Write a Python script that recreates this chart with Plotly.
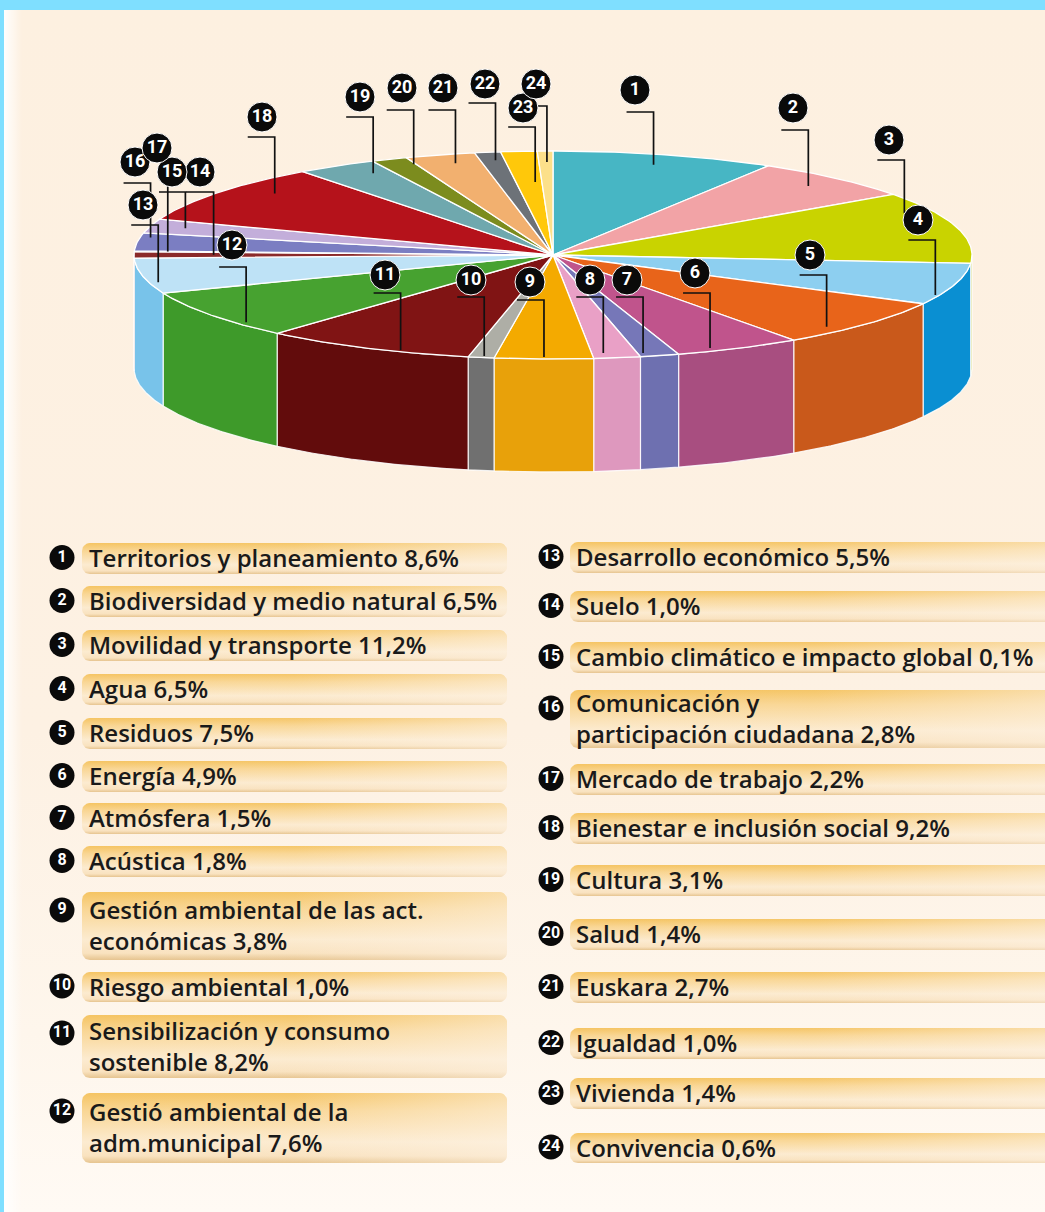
import numpy as np
import plotly.graph_objects as go

# ---------------- data ----------------
numbers = list(range(1, 25))
labels = [
    "Territorios y planeamiento", "Biodiversidad y medio natural", "Movilidad y transporte",
    "Agua", "Residuos", "Energía", "Atmósfera", "Acústica",
    "Gestión ambiental de las act.<br>económicas", "Riesgo ambiental",
    "Sensibilización y consumo<br>sostenible", "Gestió ambiental de la<br>adm.municipal",
    "Desarrollo económico", "Suelo", "Cambio climático e impacto global",
    "Comunicación y<br>participación ciudadana", "Mercado de trabajo",
    "Bienestar e inclusión social", "Cultura", "Salud", "Euskara", "Igualdad",
    "Vivienda", "Convivencia",
]
values = [8.6, 6.5, 11.2, 6.5, 7.5, 4.9, 1.5, 1.8, 3.8, 1.0, 8.2, 7.6,
          5.5, 1.0, 0.1, 2.8, 2.2, 9.2, 3.1, 1.4, 2.7, 1.0, 1.4, 0.6]
top_colors = ["#47B6C4", "#F2A3A6", "#C9D300", "#8DCFF0", "#E8641A", "#C0548C",
              "#7677B8", "#E9A0C6", "#F4AA00", "#AEAEA6", "#801414", "#47A230",
              "#BEE2F6", "#8B2A2A", "#CDB8DF", "#7B7EC2", "#C3AEDA", "#B5121B",
              "#6FA8AE", "#7C8C1E", "#F2B06F", "#6D7278", "#FFC80A", "#FCE08A"]
side_colors = ["#3C9CA8", "#D08C8F", "#AAB300", "#0A8FD2", "#C9591B", "#A84E80",
               "#6E70B0", "#DE98BE", "#E8A10A", "#707070", "#620C0C", "#3E9A2A",
               "#78C3EA", "#701F1F", "#B09CC4", "#6668A8", "#A894C0", "#951016",
               "#5F9297", "#66741A", "#D8995E", "#5A5E63", "#E0AE08", "#E0C476"]

# ---------------- layout constants ----------------
W, H = 1045, 1212
CX, CY, RX, RY, DEPTH = 553, 255, 419, 104, 113
BG = "#FDF0E0"

# callouts: number, label centre (x,y), position inside slice (t), radius fraction (k),
# elbow y, optional start x of horizontal segment
callouts = [
    (1, 635, 90, 0.5, 0.9, 112, None), (2, 793, 108, 0.5, 0.9, 130, None),
    (3, 889, 140, 0.25, 0.93, 160, None), (4, 918, 220, 0.78, 0.99, 240, None),
    (5, 810, 255, 0.69, 0.95, 275, None), (6, 695, 273, 0.7, 0.97, 293, None),
    (7, 627, 280, 0.85, 0.966, 297, None), (8, 590, 280, 0.74, 0.95, 297, None),
    (9, 530, 282, 0.5, 0.98, 300, None), (10, 471, 280, 0.42, 0.984, 297, None),
    (11, 385, 275, 0.34, 0.983, 293, None), (12, 232, 245, 0.27, 0.977, 267, None),
    (13, 143, 205, 0.30, 0.978, 225, None), (14, 200, 172, 0.5, 0.81, 192, 186),
    (15, 172, 172, 0.5, 0.92, None, None), (16, 135, 162, 0.76, 0.975, 183, None),
    (17, 157, 148, 0.5, 0.914, 192, 159), (18, 262, 117, 0.65, 0.89, 137, None),
    (19, 360, 97, 0.72, 0.895, 117, None), (20, 402, 88, 0.93, 0.934, 110, None),
    (21, 443, 88, 0.59, 0.913, 110, None), (22, 485, 84, 0.62, 0.922, 103, None),
    (23, 523, 108, 0.74, 0.703, 127, None), (24, 536, 84, 0.57, 0.894, 106, None),
]

# legend rows: (bar top, bar bottom) per item; columns
left_rows = [(543, 574), (586, 617), (630, 661), (674, 705), (718, 749), (761, 792),
             (803, 834), (846, 877), (892, 960), (972, 1002), (1015, 1078), (1093, 1163)]
right_rows = [(542, 573), (591, 622), (642, 673), (690, 748), (764, 795), (813, 844),
              (865, 896), (919, 950), (972, 1003), (1028, 1059), (1078, 1109), (1133, 1163)]

fig = go.Figure()

# ---------------- background ----------------
fig.add_trace(go.Scatter(
    x=[4, W, W, 4, 4], y=[10, 10, H, H, 10], mode="lines", fill="toself",
    line=dict(width=0), hoverinfo="skip",
    fillgradient=dict(type="vertical", start=10, stop=H,
                      colorscale=[[0, BG], [0.6, "#FDF1E3"], [0.85, "#FEF6EC"], [1, "#FFFAF4"]])))
fig.add_trace(go.Scatter(
    x=[4, 22, 22, 4, 4], y=[10, 10, H, H, 10], mode="lines", fill="toself",
    line=dict(width=0), hoverinfo="skip",
    fillgradient=dict(type="horizontal", start=4, stop=22,
                      colorscale=[[0, "rgba(255,255,255,0.95)"], [1, "rgba(255,255,255,0)"]])))

# ---------------- pie ----------------
total = sum(values)
cum = np.concatenate([[0], np.cumsum(values)]) / total * 360.0


def pt(phi, k=1.0, dy=0.0):
    r = np.radians(phi)
    return CX + k * RX * np.sin(r), CY - k * RY * np.cos(r) + dy


def arc(a, b, k=1.0, dy=0.0):
    n = max(3, int(abs(b - a) * 2) + 2)
    ph = np.linspace(a, b, n)
    return pt(ph, k, dy)


# side walls (front half)
for i in range(len(values)):
    a, b = max(cum[i], 90.0), min(cum[i + 1], 270.0)
    if b <= a:
        continue
    xt, yt = arc(a, b)
    xb, yb = arc(b, a, dy=DEPTH)
    xs = np.concatenate([xt, xb, xt[:1]])
    ys = np.concatenate([yt, yb, yt[:1]])
    fig.add_trace(go.Scatter(x=xs, y=ys, mode="lines", fill="toself", fillcolor=side_colors[i],
                             line=dict(color="rgba(255,255,255,0.85)", width=1.2), hoverinfo="skip"))

# top faces
for i in range(len(values)):
    xa, ya = arc(cum[i], cum[i + 1])
    xs = np.concatenate([[CX], xa, [CX]])
    ys = np.concatenate([[CY], ya, [CY]])
    fig.add_trace(go.Scatter(x=xs, y=ys, mode="lines", fill="toself", fillcolor=top_colors[i],
                             line=dict(color="white", width=1.3), hoverinfo="skip"))

# ---------------- callouts ----------------
lx_, ly_ = [], []
for num, cx_, cy_, t, k, ey_corner, hstart in callouts:
    i = num - 1
    phi = cum[i] + t * (cum[i + 1] - cum[i])
    ex, ey = pt(phi, k)
    if ey_corner is None:
        lx_ += [ex, ex, None]
        ly_ += [cy_ + 14, ey, None]
    else:
        hs = ex - 27 if hstart is None else hstart
        lx_ += [hs, ex, ex, None]
        ly_ += [ey_corner, ey_corner, ey, None]
fig.add_trace(go.Scatter(x=lx_, y=ly_, mode="lines", line=dict(color="#111111", width=1.7),
                         hoverinfo="skip"))
fig.add_trace(go.Scatter(
    x=[c[1] for c in callouts], y=[c[2] for c in callouts], mode="markers+text",
    marker=dict(size=30, color="#0A0A0A", line=dict(color="white", width=1)),
    text=[f"<b>{c[0]}</b>" for c in callouts], textposition="middle center",
    textfont=dict(family="Roboto", size=18, color="white"), hoverinfo="skip"))


# ---------------- legend ----------------
def rrect(x0, y0, x1, y1, r):
    xs, ys = [], []
    for (cx_, cy_, a0) in [(x1 - r, y0 + r, -90), (x1 - r, y1 - r, 0), (x0 + r, y1 - r, 90), (x0 + r, y0 + r, 180)]:
        ang = np.radians(np.linspace(a0, a0 + 90, 8))
        xs += list(cx_ + r * np.cos(ang))
        ys += list(cy_ + r * np.sin(ang))
    xs.append(xs[0]); ys.append(ys[0])
    return xs, ys


bar_scale = [[0, "#F5C462"], [0.25, "#F9D694"], [0.7, "#FCEBD0"], [0.9, "#F9E2BF"], [1, "#E6C48F"]]
circ_x, circ_y, circ_t = [], [], []
for col, rows, bx0, bx1, cxl, tx in [(0, left_rows, 82, 507, 62, 87), (1, right_rows, 570, 1060, 551, 574)]:
    for j, (y0, y1) in enumerate(rows):
        idx = col * 12 + j
        xs, ys = rrect(bx0, y0, bx1, y1, 8)
        fig.add_trace(go.Scatter(x=xs, y=ys, mode="lines", fill="toself", line=dict(width=0),
                                 hoverinfo="skip",
                                 fillgradient=dict(type="vertical", start=y0, stop=y1, colorscale=bar_scale)))
        fig.add_trace(go.Scatter(x=xs, y=ys, mode="lines", fill="toself", line=dict(width=0),
                                 hoverinfo="skip",
                                 fillgradient=dict(type="horizontal", start=bx0, stop=bx1,
                                                   colorscale=[[0, "rgba(253,240,224,0)"], [0.5, "rgba(253,240,224,0.05)"],
                                                               [1, "rgba(253,242,228,0.55)"]])))
        twoline = "<br>" in labels[idx]
        yc = (y0 + y1) / 2 - 1
        first_y = y0 + 18 if twoline else yc
        circ_x.append(cxl); circ_y.append(first_y); circ_t.append(f"<b>{numbers[idx]}</b>")
        pct = f"{values[idx]:.1f}".replace(".", ",") + "%"
        fig.add_annotation(x=tx, y=yc, xref="x", yref="y", xanchor="left", yanchor="middle",
                           text=f"{labels[idx]} {pct}",
                           showarrow=False, align="left",
                           font=dict(family="Open Sans", size=24, color="#1A1A1A", weight=600))

fig.add_trace(go.Scatter(
    x=circ_x, y=circ_y, mode="markers+text",
    marker=dict(size=25, color="#0A0A0A"), text=circ_t, textposition="middle center",
    textfont=dict(family="Roboto", size=16, color="white"), hoverinfo="skip"))

fig.update_layout(
    width=W, height=H, margin=dict(l=0, r=0, t=0, b=0),
    paper_bgcolor="#7FDFFF", plot_bgcolor="rgba(0,0,0,0)", showlegend=False,
    xaxis=dict(range=[0, W], visible=False, fixedrange=True),
    yaxis=dict(range=[H, 0], visible=False, fixedrange=True),
)
fig.write_html("out.html", config={"displayModeBar": False},
               post_script="document.body.style.margin='0';document.body.style.overflow='hidden';")
